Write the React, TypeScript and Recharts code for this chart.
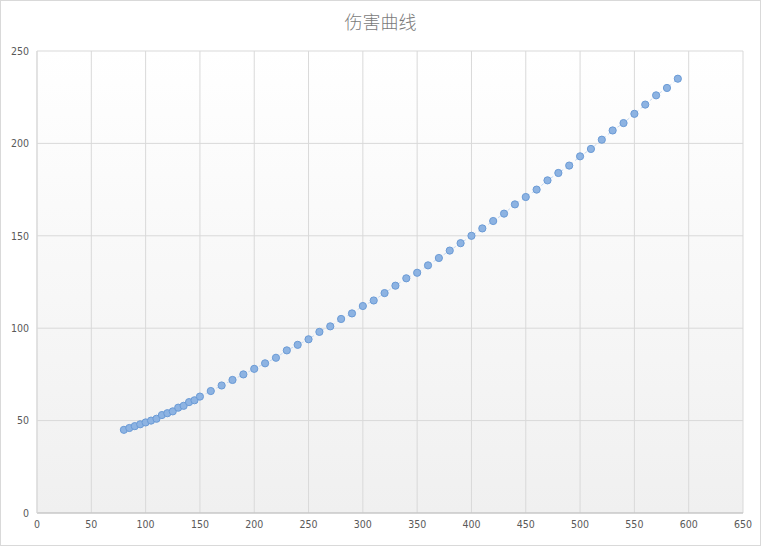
import React from 'react';
import { ScatterChart, Scatter, XAxis, YAxis, CartesianGrid } from 'recharts';

// level / damage readings taken off the curve
const levels = [
  80, 85, 90, 95, 100, 105, 110, 115, 120, 125, 130, 135, 140, 145, 150,
  160, 170, 180, 190, 200, 210, 220, 230, 240, 250, 260, 270, 280, 290, 300,
  310, 320, 330, 340, 350, 360, 370, 380, 390, 400, 410, 420, 430, 440, 450,
  460, 470, 480, 490, 500, 510, 520, 530, 540, 550, 560, 570, 580, 590,
];
const damage = [
  45, 46, 47, 48, 49, 50, 51, 53, 54, 55, 57, 58, 60, 61, 63,
  66, 69, 72, 75, 78, 81, 84, 88, 91, 94, 98, 101, 105, 108, 112,
  115, 119, 123, 127, 130, 134, 138, 142, 146, 150, 154, 158, 162, 167, 171,
  175, 180, 184, 188, 193, 197, 202, 207, 211, 216, 221, 226, 230, 235,
];
const xTicks = [0, 50, 100, 150, 200, 250, 300, 350, 400, 450, 500, 550, 600, 650];
const yTicks = [0, 50, 100, 150, 200, 250];

const data = levels.map((x, i) => ({ x, y: damage[i] }));

const tickStyle = {
  fontSize: 10.5,
  fill: '#595959',
  fontFamily: '"Liberation Sans Narrow", "DejaVu Sans Condensed", sans-serif',
};

const Dot = (props: any) => (
  <circle cx={props.cx} cy={props.cy} r={3.6} fill="#8db3e2" stroke="#6b9bd6" strokeWidth={1} />
);

const App: React.FC = () => {
  return (
    <div
      style={{
        position: 'absolute',
        left: 0,
        top: 0,
        width: 761,
        height: 546,
        boxSizing: 'border-box',
        border: '1px solid #d9d9d9',
        background: '#fff',
      }}
    >
      <div
        style={{
          position: 'absolute',
          left: 0,
          right: 0,
          top: 7,
          textAlign: 'center',
          fontSize: 18,
          color: '#7a7a7a',
          fontFamily: '"Noto Sans CJK SC", sans-serif',
          fontWeight: 300,
        }}
      >
        伤害曲线
      </div>
      <ScatterChart width={759} height={544} margin={{ top: 50, right: 17, left: 6, bottom: 7 }}>
        <defs>
          <linearGradient id="plotBg" x1="0" y1="0" x2="0" y2="1">
            <stop offset="0%" stopColor="#ffffff" />
            <stop offset="100%" stopColor="#f0f0f0" />
          </linearGradient>
        </defs>
        <CartesianGrid stroke="#d9d9d9" fill="url(#plotBg)" />
        <XAxis
          type="number"
          dataKey="x"
          domain={[0, 650]}
          ticks={xTicks}
          tick={tickStyle}
          tickLine={false}
          axisLine={{ stroke: '#bfbfbf' }}
          height={25}
          interval={0}
        />
        <YAxis
          type="number"
          dataKey="y"
          domain={[0, 250]}
          ticks={yTicks}
          tick={tickStyle}
          tickLine={false}
          axisLine={{ stroke: '#d9d9d9' }}
          width={30}
          interval={0}
        />
        <Scatter
          data={data}
          shape={Dot}
          line={{ stroke: '#c6d9f1', strokeWidth: 1, strokeDasharray: '3 3' }}
          isAnimationActive={false}
        />
      </ScatterChart>
    </div>
  );
};

export default App;
